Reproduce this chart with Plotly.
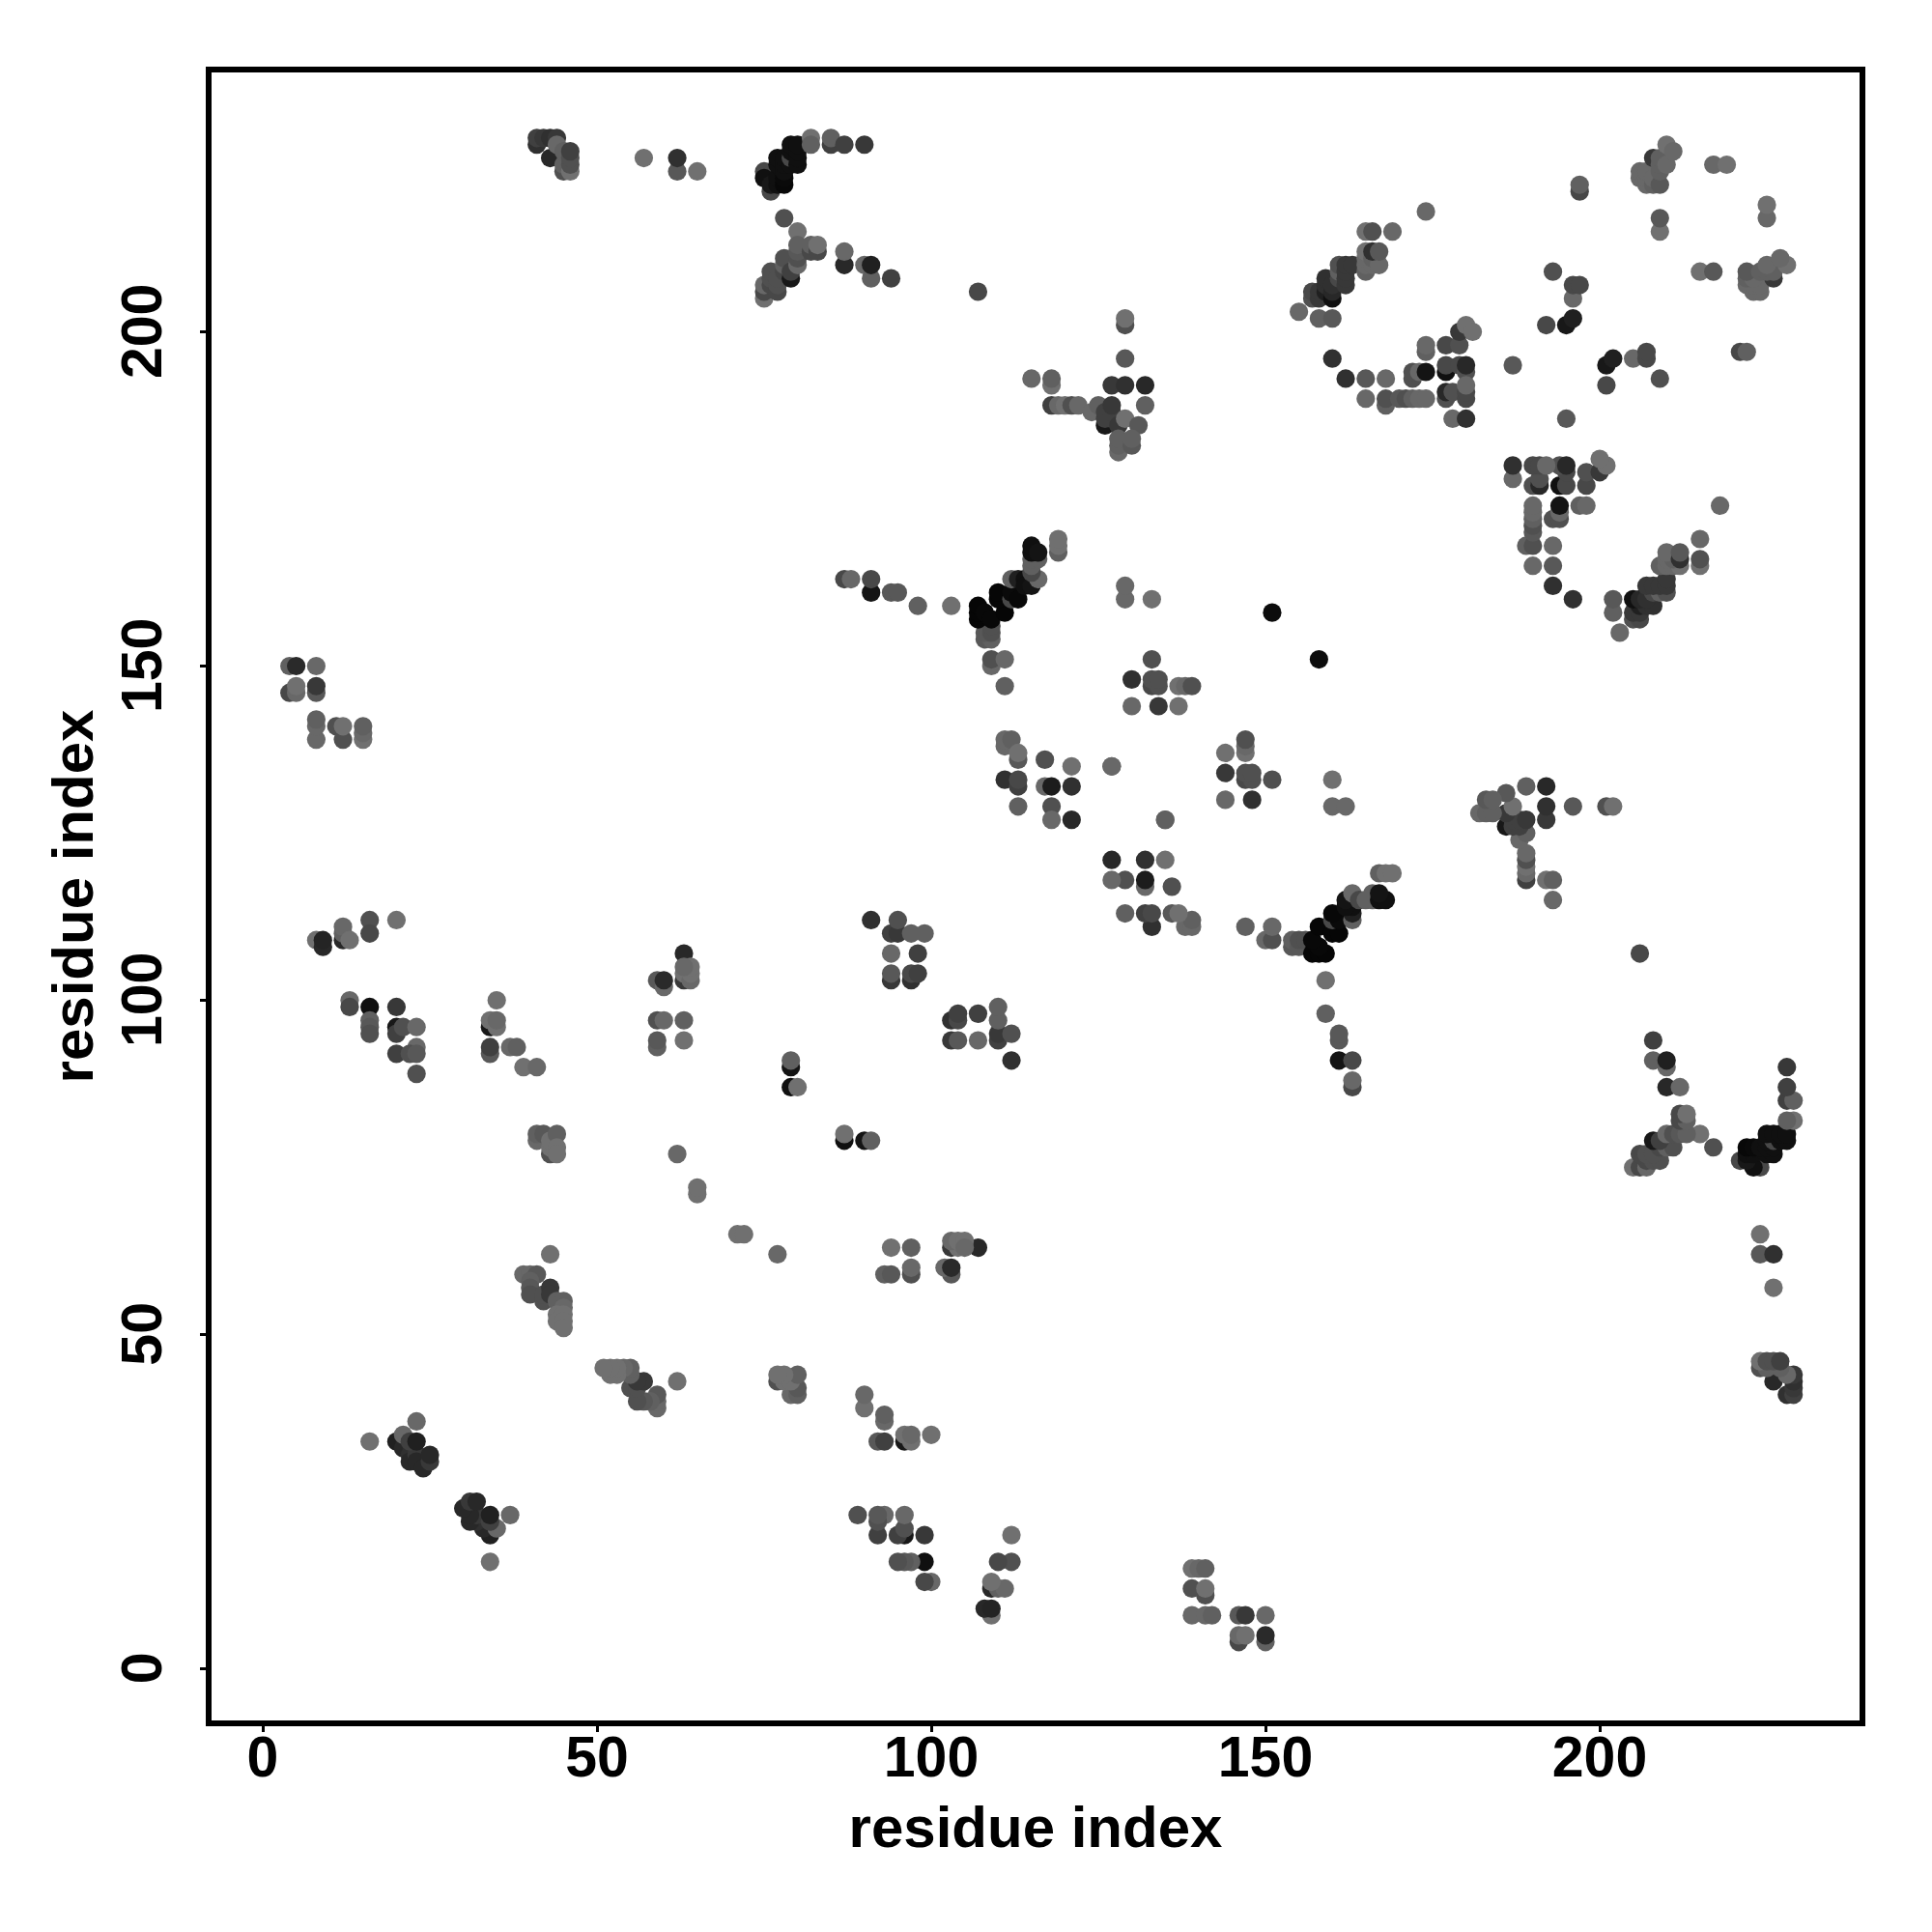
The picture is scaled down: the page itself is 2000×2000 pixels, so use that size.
import plotly.graph_objects as go

# Contact pairs (i < j); the map is symmetric, so each pair is also drawn as (j, i).
contact_i = [
    4,5,8,4,5,5,8,8,
    8,8,8,11,12,12,15,15,15,
    8,9,9,12,12,12,13,16,16,20,
    13,13,16,16,16,16,20,20,20,21,23,23,22,23,23,20,
    34,34,34,34,35,35,35,37,38,39,41,
    41,41,42,43,43,43,44,44,44,
    39,40,41,40,40,40,42,42,43,43,44,45,45,44,44,45,45,45,43,
    16,20,21,22,22,23,23,24,21,22,23,25,25,23,
    59,60,60,63,63,63,64,64,64,63,59,60,63,59,59,63,
    79,79,79,80,62,65,65,
    41,41,42,43,43,44,44,45,45,45,46,46,46,46,
    57,62,62,65,
    76,75,75,76,77,77,77,77,78,78,78,78,78,79,79,79,79,80,80,80,80,82,82,85,85,87,90,
    78,80,75,75,75,76,76,76,77,77,77,78,78,78,79,79,80,80,80,80,82,82,83,83,87,87,90,91,91,94,107,
    91,94,94,94,94,95,95,97,97,97,98,98,99,
    87,88,91,91,94,95,98,103,
    109,109,111,111,108,109,108,109,109,107,107,107,108,109,111,110,110,112,112,113,112,113,114,114,115,116,115,115,115,116,115,115,116,119,119,119,
    129,129,133,133,130,130,133,133,134,134,134,137,138,139,137,
    111,111,112,113,113,117,121,127,111,113,113,117,118,121,113,118,118,121,135,
    129,129,129,115,118,118,118,119,120,121,122,127,129,132,132,124,125,126,126,126,127,127,127,128,129,131,128,128,128,130,130,
    155,158,160,157,157,158,158,159,159,159,160,160,160,161,161,161,162,162,162,162,163,165,165,165,165,166,166,167,166,167,165,166,169,174,
    160,162,165,165,168,168,168,170,171,172,173,174,172,172,173,174,174,174,177,179,177,177,177,177,178,178,180,179,180,180,180,180,180,179,180,181,
    187,192,193,195,196,196,196,197,197,197,
    206,206,207,207,207,208,208,208,209,209,209,209,210,210,211,209,209,217,219,
    151,
]
contact_j = [
    150,150,150,146,146,147,146,147,
    139,141,142,141,139,141,139,140,141,
    109,108,109,109,110,111,109,112,110,112,
    100,99,99,97,96,95,96,95,92,96,96,93,92,92,89,99,
    92,93,96,97,96,97,100,93,93,90,90,
    79,80,80,77,78,79,80,78,77,
    59,59,59,58,57,56,55,56,57,56,55,55,54,53,52,53,52,51,62,
    34,34,33,32,31,32,31,30,35,34,34,31,32,37,
    103,102,103,103,104,107,103,104,105,105,97,97,97,93,94,94,
    90,91,87,87,77,71,72,
    228,229,229,226,229,229,228,224,225,227,224,225,226,227,
    226,224,226,224,
    221,224,223,222,222,223,225,226,222,223,224,225,226,225,226,227,228,225,226,227,228,229,228,228,229,228,228,
    217,215,205,206,207,207,208,209,206,207,208,209,210,211,208,209,210,211,212,213,212,213,212,213,210,212,210,208,210,208,206,
    112,103,104,107,110,110,112,103,104,110,104,107,110,
    163,163,161,163,161,161,159,159,
    150,151,151,147,154,154,155,155,156,157,158,159,158,157,158,160,161,160,161,160,163,163,163,162,162,163,164,165,166,166,167,168,167,167,168,169,
    160,162,160,151,148,144,147,148,147,148,144,147,147,147,144,
    138,139,139,136,137,136,135,135,133,132,133,132,132,132,129,129,127,127,127,
    201,202,196,193,192,193,189,189,189,189,189,192,192,192,189,188,189,186,187,188,187,188,189,186,187,186,182,183,184,183,184,
    203,202,202,205,206,205,206,206,207,208,205,206,207,208,209,210,207,208,209,210,210,209,210,211,212,210,211,210,212,212,215,215,215,218,
    196,193,193,190,193,189,190,190,190,190,190,190,193,194,194,194,197,198,198,198,194,195,190,191,191,187,187,195,194,195,190,191,192,200,201,200,
    195,201,209,201,202,205,207,207,221,222,
    223,224,222,223,224,222,223,226,222,224,225,226,225,228,227,215,217,225,225,
    158,
]
contact_gray = [
    96,42,104,72,104,112,88,56,
    104,104,96,80,80,112,112,104,96,
    112,40,36,40,96,104,112,80,72,112,
    104,72,16,96,88,80,24,64,64,80,104,104,80,88,80,56,
    88,64,24,112,112,104,112,104,96,112,104,
    104,96,88,80,112,112,96,112,112,
    104,104,88,96,88,80,80,80,56,56,96,96,104,112,112,112,112,112,112,
    112,32,40,48,40,56,40,40,104,64,32,56,40,104,
    88,104,42,56,112,40,104,112,112,104,80,104,96,96,88,112,
    20,96,16,112,104,112,112,
    48,64,56,40,48,56,104,80,96,96,112,80,80,64,
    112,88,48,112,
    72,72,16,24,16,16,16,16,8,10,16,16,16,16,72,16,16,16,16,16,16,112,96,64,96,64,56,
    80,112,112,72,104,72,80,80,72,80,80,72,96,80,24,64,104,80,88,96,72,96,72,112,40,104,104,96,32,64,72,
    48,56,88,104,64,56,80,48,72,96,64,64,96,
    72,104,20,72,88,88,96,112,
    104,80,104,96,88,96,88,80,80,6,6,6,8,8,6,6,6,72,10,8,96,32,16,16,20,104,72,96,96,96,16,16,20,96,112,112,
    104,104,112,80,48,104,72,80,80,80,56,112,104,80,112,
    104,104,96,88,112,80,112,96,48,64,72,104,28,48,96,80,104,40,104,
    80,112,88,104,112,96,64,104,112,80,104,56,48,40,96,104,96,24,64,64,64,64,56,56,112,88,104,96,96,88,96,
    104,96,88,80,72,56,56,32,48,48,16,40,48,72,96,80,56,56,56,56,56,96,104,104,112,104,96,104,48,88,112,80,104,104,
    48,48,88,104,104,96,80,88,80,96,104,104,80,80,104,20,96,104,72,80,16,72,80,40,80,104,48,72,80,40,72,72,104,56,112,112,
    88,72,80,24,32,104,72,72,72,96,
    104,104,104,104,104,96,104,56,88,96,96,96,104,112,104,112,88,104,112,
    12,
]
tick_values = [0, 50, 100, 150, 200]
tick_labels = ["0", "50", "100", "150", "200"]
axis_title = "residue index"

assert len(contact_i) == len(contact_j) == len(contact_gray), (len(contact_i), len(contact_j), len(contact_gray))

xs = contact_i + contact_j
ys = contact_j + contact_i
colors = [f"rgb({g},{g},{g})" for g in contact_gray + contact_gray]

fig = go.Figure(go.Scatter(
    x=xs, y=ys, mode="markers",
    marker=dict(size=19.2, color=colors, line=dict(width=0)),
    showlegend=False, hoverinfo="skip",
))

font = "Liberation Sans, Arial, sans-serif"
common = dict(
    showgrid=False, zeroline=False, showline=True, mirror=True,
    linecolor="black", linewidth=5.5,
    ticks="outside", ticklen=6, tickwidth=3, tickcolor="black",
    tickmode="array", tickvals=tick_values,
    tickfont=dict(family=font, size=59, color="black", weight="bold"),
)
fig.update_xaxes(
    range=[-7.66, 238.87], ticklabelstandoff=-25, ticktext=tick_labels,
    title=dict(text=axis_title, font=dict(family=font, size=60, color="black", weight="bold"), standoff=21),
    **common,
)
fig.update_yaxes(
    range=[-7.73, 238.8], tickangle=-90, ticklabelstandoff=17,
    ticktext=[t + "\u00a0" for t in tick_labels],
    title=dict(text=axis_title, font=dict(family=font, size=60, color="black", weight="bold"), standoff=0),
    **common,
)
fig.update_layout(
    width=2000, height=2000,
    margin=dict(l=211, r=83, t=67, b=227, autoexpand=False),
    paper_bgcolor="white", plot_bgcolor="white",
)
fig.write_html("out.html")
